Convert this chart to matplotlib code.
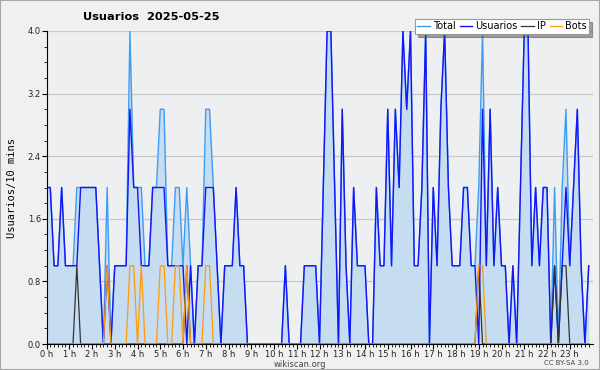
import numpy as np
import matplotlib
matplotlib.use("Agg")
import matplotlib.pyplot as plt
from matplotlib.patches import Rectangle

# 10-minute slots for the day (144 values each)
total = [2, 2, 1, 1, 2, 1, 1, 1, 2, 2,
         2, 2, 2, 2, 1, 0, 2, 0, 1, 1,
         1, 1, 4, 2, 2, 2, 1, 1, 2, 2,
         3, 3, 1, 1, 2, 2, 1, 2, 1, 0,
         1, 1, 3, 3, 2, 1, 0, 1, 1, 1,
         2, 1, 1, 0, 0, 0, 0, 0, 0, 0,
         0, 0, 0, 1, 0, 0, 0, 0, 1, 1,
         1, 1, 0, 2, 4, 4, 2, 0, 3, 1,
         0, 2, 1, 1, 1, 0, 0, 2, 1, 1,
         3, 1, 3, 2, 4, 3, 4, 1, 1, 2,
         4, 0, 2, 1, 3, 4, 2, 1, 1, 1,
         2, 2, 1, 1, 2, 4, 1, 3, 1, 2,
         1, 1, 0, 1, 0, 2, 4, 4, 1, 2,
         1, 2, 2, 0, 2, 0, 2, 3, 1, 2,
         3, 1, 0, 1]
usuarios = [2, 2, 1, 1, 2, 1, 1, 1, 1, 2,
            2, 2, 2, 2, 1, 0, 1, 0, 1, 1,
            1, 1, 3, 2, 2, 1, 1, 1, 2, 2,
            2, 2, 1, 1, 1, 1, 1, 0, 1, 0,
            1, 1, 2, 2, 2, 1, 0, 1, 1, 1,
            2, 1, 1, 0, 0, 0, 0, 0, 0, 0,
            0, 0, 0, 1, 0, 0, 0, 0, 1, 1,
            1, 1, 0, 2, 4, 4, 2, 0, 3, 1,
            0, 2, 1, 1, 1, 0, 0, 2, 1, 1,
            3, 1, 3, 2, 4, 3, 4, 1, 1, 2,
            4, 0, 2, 1, 3, 4, 2, 1, 1, 1,
            2, 2, 1, 1, 0, 3, 1, 3, 1, 2,
            1, 1, 0, 1, 0, 2, 4, 4, 1, 2,
            1, 2, 2, 0, 1, 0, 1, 2, 1, 2,
            3, 1, 0, 1]
ip_slots = [8, 37, 114, 134, 136, 137]
bots_slots = [16, 22, 23, 25, 30, 31, 34, 35, 37, 42, 43, 114, 115]
hour_labels = [f"{h} h" for h in range(24)]

ip = np.zeros(144)
ip[ip_slots] = 1
bots = np.zeros(144)
bots[bots_slots] = 1
x = np.arange(144) / 6

fig = plt.figure(figsize=(6, 3.7), dpi=100, facecolor="#f0f0f0")
fig.patches.append(Rectangle((0, 0), 1, 1, transform=fig.transFigure,
                             fill=False, edgecolor="#a8a8a8", lw=1.5))
ax = fig.add_axes([46.5 / 600, 26 / 370, 546 / 600, 313 / 370])
ax.set_facecolor("#eeeff1")

ax.fill_between(x, total, color="#c6dcf0", lw=0)
ax.plot(x, total, color="#3d9cf5", lw=1.0, label="Total")
ax.plot(x, usuarios, color="#1515f5", lw=1.0, label="Usuarios")
ax.plot(x, ip, color="#333333", lw=0.9, label="IP")
ax.plot(x, bots, color="#ff9a0a", lw=0.9, label="Bots")

ax.set_xlim(0, 24)
ax.set_ylim(0, 4)
ax.set_yticks(np.arange(0, 4.01, 0.8))
ax.set_yticks(np.arange(0, 4.01, 0.2), minor=True)
ax.set_yticklabels([f"{v:.1f}" for v in np.arange(0, 4.01, 0.8)])
ax.set_xticks(np.arange(24))
ax.set_xticks(np.arange(0, 24, 1 / 6), minor=True)
ax.set_xticklabels(hour_labels)
ax.tick_params(labelsize=6, colors="#222222", length=3.5, width=0.8, pad=0.5)
ax.tick_params(which="minor", length=2.2, width=0.6)
ax.tick_params(axis="both", color="black")
ax.grid(axis="y", color="#c8c8c8", lw=0.9)
ax.set_axisbelow(True)
for s in ["top", "right"]:
    ax.spines[s].set_visible(False)
ax.spines["left"].set_zorder(5)
ax.spines["bottom"].set_zorder(5)

ax.set_ylabel("Usuarios/10 mins", family="DejaVu Sans Mono", fontsize=7.5, labelpad=8)
fig.text(0.252, 0.953, "Usuarios  2025-05-25", fontsize=8.2, weight="bold",
         ha="center", va="center")
fig.text(0.5, 0.016, "wikiscan.org", fontsize=6, color="#444444", ha="center", va="center")
fig.text(0.982, 0.018, "CC BY-SA 3.0", fontsize=5, color="#444444", ha="right", va="center")

leg = fig.legend(loc="upper right", bbox_to_anchor=(0.99, 0.962), ncol=4,
                 fontsize=7, handlelength=1.3, handletextpad=0.3,
                 columnspacing=0.4, borderpad=0.25, fancybox=False, shadow=True,
                 framealpha=1, edgecolor="#999999")
leg.get_frame().set_linewidth(0.8)

fig.savefig("out.png", dpi=100, facecolor=fig.get_facecolor())
